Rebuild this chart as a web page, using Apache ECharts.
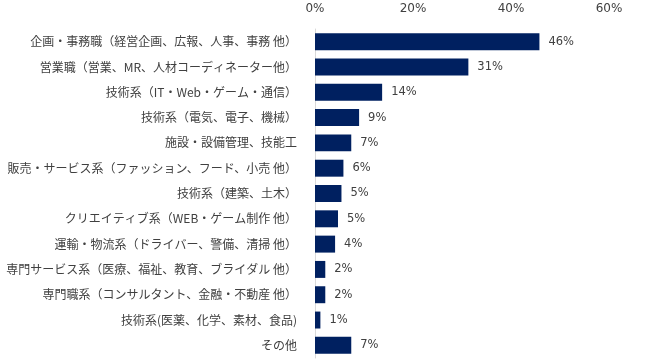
<!DOCTYPE html>
<html>
<head>
<meta charset="utf-8">
<script src="https://cdn.jsdelivr.net/npm/echarts@6/dist/echarts.min.js"></script>
<style>
html,body{margin:0;padding:0;background:#fff;}
#chart{width:658px;height:359px;}
</style>
</head>
<body>
<div id="chart"></div>
<script>
const categories = [
  "企画・事務職（経営企画、広報、人事、事務 他）",
  "営業職（営業、MR、人材コーディネーター他）",
  "技術系（IT・Web・ゲーム・通信）",
  "技術系（電気、電子、機械）",
  "施設・設備管理、技能工",
  "販売・サービス系（ファッション、フード、小売 他）",
  "技術系（建築、土木）",
  "クリエイティブ系（WEB・ゲーム制作 他）",
  "運輸・物流系（ドライバー、警備、清掃 他）",
  "専門サービス系（医療、福祉、教育、ブライダル 他）",
  "専門職系（コンサルタント、金融・不動産 他）",
  "技術系(医薬、化学、素材、食品)",
  "その他"
];
const values = [45.8, 31.3, 13.7, 9.0, 7.4, 5.8, 5.4, 4.7, 4.1, 2.1, 2.1, 1.1, 7.4];
const xTicks = [0, 20, 40, 60];

const chart = echarts.init(document.getElementById('chart'), null, {renderer: 'canvas'});
chart.setOption({
  animation: false,
  grid: {left: 315, top: 29, width: 294, height: 329},
  xAxis: {
    type: 'value', position: 'top',
    min: xTicks[0], max: xTicks[xTicks.length - 1], interval: xTicks[1] - xTicks[0],
    axisLine: {show: false}, axisTick: {show: false}, splitLine: {show: false},
    axisLabel: {formatter: '{value}%', color: '#404040', fontFamily: 'DejaVu Sans', fontSize: 12, margin: 14}
  },
  yAxis: {
    type: 'category', inverse: true, data: categories,
    axisLine: {show: true, lineStyle: {color: '#d9d9d9', width: 1}},
    axisTick: {show: false},
    axisLabel: {color: '#404040', fontFamily: 'Noto Sans CJK JP', fontSize: 12, margin: 18}
  },
  series: [{
    type: 'bar', data: values, barCategoryGap: '33%',
    itemStyle: {color: '#002060'},
    label: {
      show: true, position: 'right', distance: 9,
      formatter: p => Math.round(p.value) + '%',
      color: '#404040', fontFamily: 'DejaVu Sans', fontSize: 11.5
    }
  }]
});
</script>
</body>
</html>
